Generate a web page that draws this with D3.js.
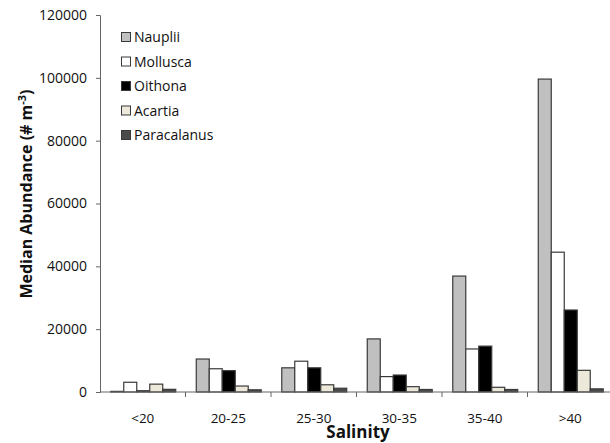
<!DOCTYPE html>
<html>
<head>
<meta charset="utf-8">
<script src="https://cdn.jsdelivr.net/npm/d3@7"></script>
<style>
  body { margin: 0; background: #fff; }
  svg { display: block; font-family: "Open Sans", "Liberation Sans", sans-serif; }
</style>
</head>
<body>
<div id="chart"></div>
<script>
var categories = ["<20", "20-25", "25-30", "30-35", "35-40", ">40"];
var seriesNames = ["Nauplii", "Mollusca", "Oithona", "Acartia", "Paracalanus"];
var nauplii     = [200, 10500, 7700, 16900, 36900, 99600];
var mollusca    = [3100, 7400, 9800, 4900, 13700, 44500];
var oithona     = [400, 6800, 7700, 5400, 14600, 26100];
var acartia     = [2500, 1900, 2300, 1700, 1500, 6900];
var paracalanus = [850, 700, 1200, 800, 800, 1000];
var yTicks      = [0, 20000, 40000, 60000, 80000, 100000, 120000];

var seriesValues = [nauplii, mollusca, oithona, acartia, paracalanus];
var palette = ["#c0c0c0", "#ffffff", "#000000", "#ece8da", "#4a4a4a"];

var width = 610, height = 443;
var svg = d3.select("#chart").append("svg")
    .attr("width", width)
    .attr("height", height);

//scales
var x0 = d3.scaleBand().domain(categories).range([100, 613]);
var x1 = d3.scaleBand().domain(seriesNames)
    .range([0, x0.bandwidth()])
    .paddingOuter(0.79);
var y = d3.scaleLinear().domain([0, 120000]).range([392, 15]);
var color = d3.scaleOrdinal(seriesNames, palette);

//bars
var groups = svg.selectAll(".grp")
    .data(categories)
    .enter()
    .append("g")
    .attr("class", "grp")
    .attr("transform", (d) => "translate(" + x0(d) + ",0)");

groups.selectAll("rect")
    .data((d, i) => seriesNames.map((s, j) => ({ s: s, v: seriesValues[j][i] })))
    .enter()
    .append("rect")
    .attr("x", (d) => x1(d.s) + 0.5)
    .attr("y", (d) => y(d.v))
    .attr("width", x1.bandwidth())
    .attr("height", (d) => y(0) - y(d.v))
    .attr("fill", (d) => color(d.s))
    .attr("stroke", "#3a3a3a")
    .attr("stroke-width", 1.2);

//y axis
var yAxis = svg.append("g")
    .attr("transform", "translate(100,0)")
    .call(d3.axisLeft(y).tickValues(yTicks).tickFormat(d3.format("d")).tickSize(4).tickPadding(9));

//x axis: ticks on category boundaries
var xAxis = svg.append("g")
    .attr("transform", "translate(0,392)");
xAxis.append("line")
    .attr("x1", 100).attr("x2", 610)
    .attr("stroke", "#666");
xAxis.selectAll(".xt")
    .data(categories)
    .enter()
    .append("line")
    .attr("x1", (d) => x0(d) + x0.bandwidth())
    .attr("x2", (d) => x0(d) + x0.bandwidth())
    .attr("y1", 0).attr("y2", 5)
    .attr("stroke", "#666");
xAxis.selectAll(".xl")
    .data(categories)
    .enter()
    .append("text")
    .attr("x", (d) => x0(d) + x0.bandwidth() / 2)
    .attr("y", 31)
    .attr("text-anchor", "middle")
    .attr("font-size", "13.5px")
    .attr("fill", "#111")
    .text((d) => d);

yAxis.select(".domain").attr("stroke", "#666");
yAxis.selectAll(".tick line").attr("stroke", "#666");
yAxis.selectAll(".tick text")
    .attr("font-size", "14px")
    .attr("fill", "#111")
    .attr("font-family", "Open Sans, Liberation Sans, sans-serif");

//axis titles
svg.append("text")
    .attr("x", 358)
    .attr("y", 438)
    .attr("text-anchor", "middle")
    .attr("font-size", "17px")
    .attr("font-weight", "bold")
    .attr("fill", "#111")
    .text("Salinity");

var ylab = svg.append("text")
    .attr("transform", "translate(32,194) rotate(-90)")
    .attr("text-anchor", "middle")
    .attr("font-size", "16px")
    .attr("font-weight", "bold")
    .attr("fill", "#111");
ylab.append("tspan").text("Median Abundance (# m");
ylab.append("tspan").attr("dy", -6).attr("font-size", "11px").text("-3");
ylab.append("tspan").attr("dy", 6).text(")");

//legend
var legend = svg.selectAll(".leg")
    .data(seriesNames)
    .enter()
    .append("g")
    .attr("class", "leg")
    .attr("transform", (d, i) => "translate(121," + (32 + i * 24.5) + ")");
legend.append("rect")
    .attr("x", 0.5).attr("y", 0.5)
    .attr("width", 9).attr("height", 9)
    .attr("fill", (d) => color(d))
    .attr("stroke", "#3a3a3a");
legend.append("text")
    .attr("x", 13)
    .attr("y", 10)
    .attr("font-size", "14px")
    .attr("fill", "#111")
    .text((d) => d);
</script>
</body>
</html>
